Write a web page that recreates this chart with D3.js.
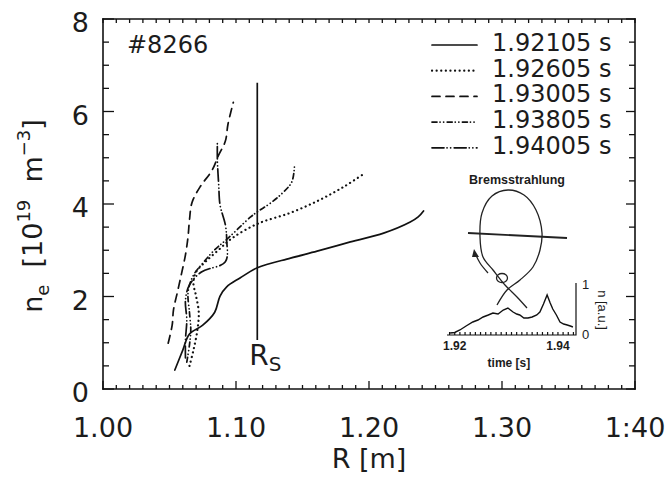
<!DOCTYPE html>
<html>
<head>
<meta charset="utf-8">
<script src="https://cdn.jsdelivr.net/npm/d3@7"></script>
</head>
<body style="margin:0">
<svg width="670" height="480"></svg>
<script>
// shot number and time slices of the density profiles
var shot = "#8266";
var times = ["1.92105 s", "1.92605 s", "1.93005 s", "1.93805 s", "1.94005 s"];
var dashes = ["none", "0.1,4.5", "8,6", "5,3,0.1,3.5,0.1,3.5", "12,3,0.1,3.5,0.1,3.5"];

// R [m] and n_e [10^19 m^-3] for each time slice
var R_1 = [1.054, 1.060, 1.065, 1.075, 1.084, 1.088, 1.093, 1.103, 1.116, 1.141, 1.161, 1.186, 1.211, 1.231, 1.237, 1.241];
var n_1 = [0.41, 0.84, 1.19, 1.38, 1.66, 2.01, 2.21, 2.40, 2.62, 2.83, 2.98, 3.18, 3.37, 3.61, 3.72, 3.85];
var R_2 = [1.065, 1.068, 1.071, 1.072, 1.070, 1.068, 1.070, 1.077, 1.087, 1.097, 1.116, 1.141, 1.163, 1.182, 1.197];
var n_2 = [0.50, 0.84, 1.28, 1.66, 2.01, 2.29, 2.53, 2.75, 3.01, 3.26, 3.57, 3.81, 4.09, 4.39, 4.67];
var R_3 = [1.049, 1.052, 1.053, 1.056, 1.059, 1.062, 1.064, 1.065, 1.067, 1.073, 1.082, 1.087, 1.092, 1.094, 1.098];
var n_3 = [0.99, 1.38, 1.71, 2.10, 2.49, 2.90, 3.31, 3.65, 4.04, 4.37, 4.73, 5.06, 5.36, 5.73, 6.20];
var R_4 = [1.063, 1.065, 1.066, 1.065, 1.064, 1.068, 1.075, 1.084, 1.094, 1.111, 1.117, 1.126, 1.135, 1.142, 1.144];
var n_4 = [0.58, 0.95, 1.28, 1.66, 2.10, 2.46, 2.72, 3.01, 3.26, 3.72, 3.85, 4.02, 4.24, 4.48, 4.84];
var R_5 = [1.062, 1.062, 1.063, 1.062, 1.065, 1.074, 1.092, 1.093, 1.092, 1.088, 1.087, 1.086, 1.086];
var n_5 = [0.67, 1.06, 1.49, 1.92, 2.25, 2.53, 2.75, 3.22, 3.55, 3.98, 4.41, 4.95, 5.34];

// separatrix position
var Rs = 1.116;
var RsRange = [1.06, 6.62];

// axis ticks
var xTicks = [1.00, 1.10, 1.20, 1.30, 1.40];
var xTickLabels = ["1.00", "1.10", "1.20", "1.30", "1:40"];
var yTicks = [0, 2, 4, 6, 8];

// inset: bremsstrahlung signal vs time
var insetTime = [1.9191, 1.9200, 1.9210, 1.9222, 1.9235, 1.9245, 1.9255, 1.9265, 1.9274, 1.9284, 1.9294, 1.9303, 1.9313, 1.9320, 1.9326, 1.9334, 1.9342, 1.9350, 1.9359, 1.9365, 1.9372, 1.9379, 1.9385, 1.9390, 1.9397, 1.9404, 1.9411, 1.9418, 1.9424, 1.9429];
var insetSignal = [0.04, 0.05, 0.10, 0.18, 0.26, 0.30, 0.36, 0.40, 0.44, 0.42, 0.50, 0.54, 0.46, 0.42, 0.40, 0.34, 0.34, 0.36, 0.40, 0.46, 0.62, 0.80, 0.64, 0.52, 0.40, 0.26, 0.22, 0.20, 0.18, 0.16];
var insetTicks = [1.92, 1.94];
var insetYTicks = [0, 1];

// inset sketch of the plasma cross-section (local units)
var orbitX = [-11, -1, 12, 25, 32, 34, 28, 16, 0, -16, -26, -28, -25, -15, -3, 9, 19];
var orbitY = [115, 100, 90, 77, 60, 43, 20, 5, 0, 6, 23, 47, 67, 80, 95, 107, 118];
var chordX = [-40, 59];
var chordY = [43, 48];
var arrowX = [-20, -28, -33];
var arrowY = [83, 73, 63];

function main() {
    var ink = "#1c1c1c";
    var font = "DejaVu Sans, sans-serif";
    var small = "Liberation Sans, Arial, sans-serif";
    var svg = d3.select("svg").attr("font-family", font);
    var mLeft = 103, mRight = 635, mTop = 19, mBottom = 389;

    var x = d3.scaleLinear().domain([1.00, 1.40]).range([mLeft, mRight]);
    var y = d3.scaleLinear().domain([0, 8]).range([mBottom, mTop]);

    var minorX = d3.range(1.00, 1.4001, 0.01);
    var minorY = d3.range(0, 8.001, 0.5);
    function isMajorX(v) { return xTicks.some(function(t) { return Math.abs(t - v) < 1e-6; }); }
    function isMajorY(v) { return yTicks.indexOf(v) >= 0; }

    // frame: four edges
    var frame = svg.append("g").attr("stroke", "#111").attr("stroke-width", 1.6);
    [[x(1.00), y(0), x(1.40), y(0)], [x(1.00), y(8), x(1.40), y(8)],
     [x(1.00), y(0), x(1.00), y(8)], [x(1.40), y(0), x(1.40), y(8)]].forEach(function(e) {
        frame.append("line")
            .attr("x1", e[0]).attr("y1", e[1]).attr("x2", e[2]).attr("y2", e[3])
            .attr("stroke", "#111").attr("stroke-width", 1.6).attr("stroke-linecap", "square");
    });

    // inward ticks
    var ticks = svg.append("g");
    ticks.selectAll("line.xb").data(minorX).enter().append("line")
        .attr("x1", function(d) { return x(d); }).attr("x2", function(d) { return x(d); })
        .attr("y1", mBottom).attr("y2", function(d) { return mBottom - (isMajorX(d) ? 8 : 4); })
        .attr("stroke", "#111").attr("stroke-width", 1.3);
    ticks.selectAll("line.xt").data(minorX).enter().append("line")
        .attr("x1", function(d) { return x(d); }).attr("x2", function(d) { return x(d); })
        .attr("y1", mTop).attr("y2", mTop + 4)
        .attr("stroke", "#111").attr("stroke-width", 1.3);
    ticks.selectAll("line.yl").data(minorY).enter().append("line")
        .attr("y1", function(d) { return y(d); }).attr("y2", function(d) { return y(d); })
        .attr("x1", mLeft).attr("x2", function(d) { return mLeft + (isMajorY(d) ? 11 : 6); })
        .attr("stroke", "#111").attr("stroke-width", 1.3);
    ticks.selectAll("line.yr").data(minorY).enter().append("line")
        .attr("y1", function(d) { return y(d); }).attr("y2", function(d) { return y(d); })
        .attr("x1", mRight).attr("x2", function(d) { return mRight - (isMajorY(d) ? 9 : 6); })
        .attr("stroke", "#111").attr("stroke-width", 1.3);

    // tick labels
    svg.append("g").selectAll("text")
        .data(xTicks)
        .enter().append("text")
        .attr("x", function(d) { return x(d); })
        .attr("y", 437)
        .attr("text-anchor", "middle").attr("font-size", 27).attr("fill", ink)
        .text(function(d, i) { return xTickLabels[i]; });
    svg.append("g").selectAll("text")
        .data(yTicks)
        .enter().append("text")
        .attr("x", mLeft - 14)
        .attr("y", function(d) { return y(d) + 13; })
        .attr("text-anchor", "end").attr("font-size", 27).attr("fill", ink)
        .text(function(d) { return d; });

    // axis titles
    svg.append("text")
        .attr("x", 369).attr("y", 468)
        .attr("text-anchor", "middle").attr("font-size", 27).attr("fill", ink)
        .text("R\u00a0[m]");

    var yl = svg.append("text")
        .attr("transform", "translate(42,216) rotate(-90)")
        .attr("text-anchor", "middle").attr("font-size", 27).attr("fill", ink);
    yl.append("tspan").text("n");
    yl.append("tspan").attr("dy", 7).attr("font-size", 18).text("e");
    yl.append("tspan").attr("dy", -7).text("\u00a0\u00a0[10");
    yl.append("tspan").attr("dy", -12).attr("font-size", 18).text("19");
    yl.append("tspan").attr("dy", 12).text("\u00a0\u00a0m");
    yl.append("tspan").attr("dy", -12).attr("font-size", 18).text("\u22123");
    yl.append("tspan").attr("dy", 12).text("]");

    // shot number
    svg.append("text")
        .attr("x", 127).attr("y", 53)
        .attr("font-size", 24).attr("fill", ink)
        .text(shot);

    // profiles
    var profiles = [[R_1, n_1], [R_2, n_2], [R_3, n_3], [R_4, n_4], [R_5, n_5]].map(function(d) {
        return d[0].map(function(r, i) { return [r, d[1][i]]; });
    });
    var profileLine = d3.line()
        .x(function(d) { return x(d[0]); })
        .y(function(d) { return y(d[1]); })
        .curve(d3.curveCatmullRom);

    svg.append("g").selectAll("path")
        .data(profiles)
        .enter().append("path")
        .attr("d", profileLine)
        .attr("fill", "none")
        .attr("stroke", "#111")
        .attr("stroke-width", function(d, i) { return i == 1 ? 2.2 : 1.7; })
        .attr("stroke-linecap", "round")
        .attr("stroke-dasharray", function(d, i) { return dashes[i]; });

    // separatrix
    svg.append("line")
        .attr("x1", x(Rs)).attr("x2", x(Rs))
        .attr("y1", y(RsRange[0])).attr("y2", y(RsRange[1]))
        .attr("stroke", "#111").attr("stroke-width", 1.7);
    var rs = svg.append("text")
        .attr("x", x(Rs) - 8).attr("y", 365)
        .attr("font-size", 28).attr("fill", ink);
    rs.append("tspan").text("R");
    rs.append("tspan").attr("dy", 6).attr("font-size", 20).text("S");

    // legend
    var legend = svg.append("g").selectAll("g")
        .data(times)
        .enter().append("g")
        .attr("transform", function(d, i) { return "translate(432," + (45 + i * 25.7) + ")"; });
    legend.append("line")
        .attr("x1", 0).attr("x2", 45)
        .attr("stroke", "#111")
        .attr("stroke-width", function(d, i) { return i == 1 ? 2.2 : 1.7; })
        .attr("stroke-linecap", "round")
        .attr("stroke-dasharray", function(d, i) { return dashes[i]; });
    legend.append("text")
        .attr("x", 60).attr("y", 6)
        .attr("font-size", 24).attr("fill", ink)
        .text(function(d) { return d; });

    // inset
    var tx = d3.scaleLinear().domain([1.9185, 1.9435]).range([447, 576]);
    var ty = d3.scaleLinear().domain([0, 1]).range([335, 285]);
    var inset = svg.append("g").attr("font-family", small);

    var ip = d3.path();
    ip.moveTo(tx(1.9185), ty(0)); ip.lineTo(tx(1.9435), ty(0)); ip.lineTo(tx(1.9435), ty(1.04));
    d3.range(1.919, 1.9436, 0.001).forEach(function(v) {
        ip.moveTo(tx(v), ty(0)); ip.lineTo(tx(v), ty(0) - 3);
    });
    inset.append("path")
        .attr("d", ip.toString())
        .attr("fill", "none").attr("stroke", "#111").attr("stroke-width", 1.2);

    inset.append("g").selectAll("text")
        .data(insetTicks)
        .enter().append("text")
        .attr("x", function(d) { return tx(d); }).attr("y", ty(0) + 15)
        .attr("text-anchor", "middle").attr("font-size", 12).attr("font-weight", "bold").attr("fill", ink)
        .text(d3.format(".2f"));
    inset.append("g").selectAll("text")
        .data(insetYTicks)
        .enter().append("text")
        .attr("x", tx(1.9435) + 6).attr("y", function(d) { return ty(d) + 4; })
        .attr("font-size", 13).attr("fill", ink)
        .text(function(d) { return d; });

    inset.append("text")
        .attr("x", tx(1.9305)).attr("y", 367)
        .attr("text-anchor", "middle").attr("font-size", 12)
        .attr("font-weight", "bold").attr("fill", ink)
        .text("time [s]");
    inset.append("text")
        .attr("transform", "translate(598,310) rotate(90)")
        .attr("text-anchor", "middle").attr("font-size", 13).attr("fill", ink)
        .text("n [a.u.]");

    var sig = insetTime.map(function(t, i) { return [t, insetSignal[i]]; });
    inset.append("path")
        .attr("d", d3.line().x(function(d) { return tx(d[0]); }).y(function(d) { return ty(d[1]); })(sig))
        .attr("fill", "none").attr("stroke", "#111").attr("stroke-width", 1.4);

    // sketch of the orbit, chord and rotation arrow
    var sx = d3.scaleLinear().domain([0, 1]).range([508, 509]);
    var sy = d3.scaleLinear().domain([0, 1]).range([190, 191]);
    var sketch = inset.append("g");
    function pts(xs, ys) { return xs.map(function(v, i) { return [v, ys[i]]; }); }
    var sl = d3.line().x(function(d) { return sx(d[0]); }).y(function(d) { return sy(d[1]); });

    sketch.append("text")
        .attr("x", sx(9)).attr("y", sy(-6))
        .attr("text-anchor", "middle").attr("font-size", 12.5)
        .attr("font-weight", "bold").attr("fill", ink)
        .text("Bremsstrahlung");
    sketch.append("path")
        .attr("d", sl.curve(d3.curveCatmullRom)(pts(orbitX, orbitY)))
        .attr("fill", "none").attr("stroke", "#222").attr("stroke-width", 1.3);
    sketch.append("path")
        .attr("d", sl.curve(d3.curveLinear)(pts(chordX, chordY)))
        .attr("stroke", "#222").attr("stroke-width", 1.8);
    sketch.append("ellipse")
        .attr("cx", sx(-6)).attr("cy", sy(88)).attr("rx", 5.5).attr("ry", 4.5)
        .attr("fill", "none").attr("stroke", "#222").attr("stroke-width", 1.3);
    sketch.append("path")
        .attr("d", sl.curve(d3.curveCatmullRom)(pts(arrowX, arrowY)))
        .attr("fill", "none").attr("stroke", "#222").attr("stroke-width", 1.3);
    sketch.append("path")
        .attr("d", sl.curve(d3.curveLinear)([[-34, 59], [-29, 67], [-36, 67]]) + "Z")
        .attr("fill", "#222");
}
main();
</script>
</body>
</html>
